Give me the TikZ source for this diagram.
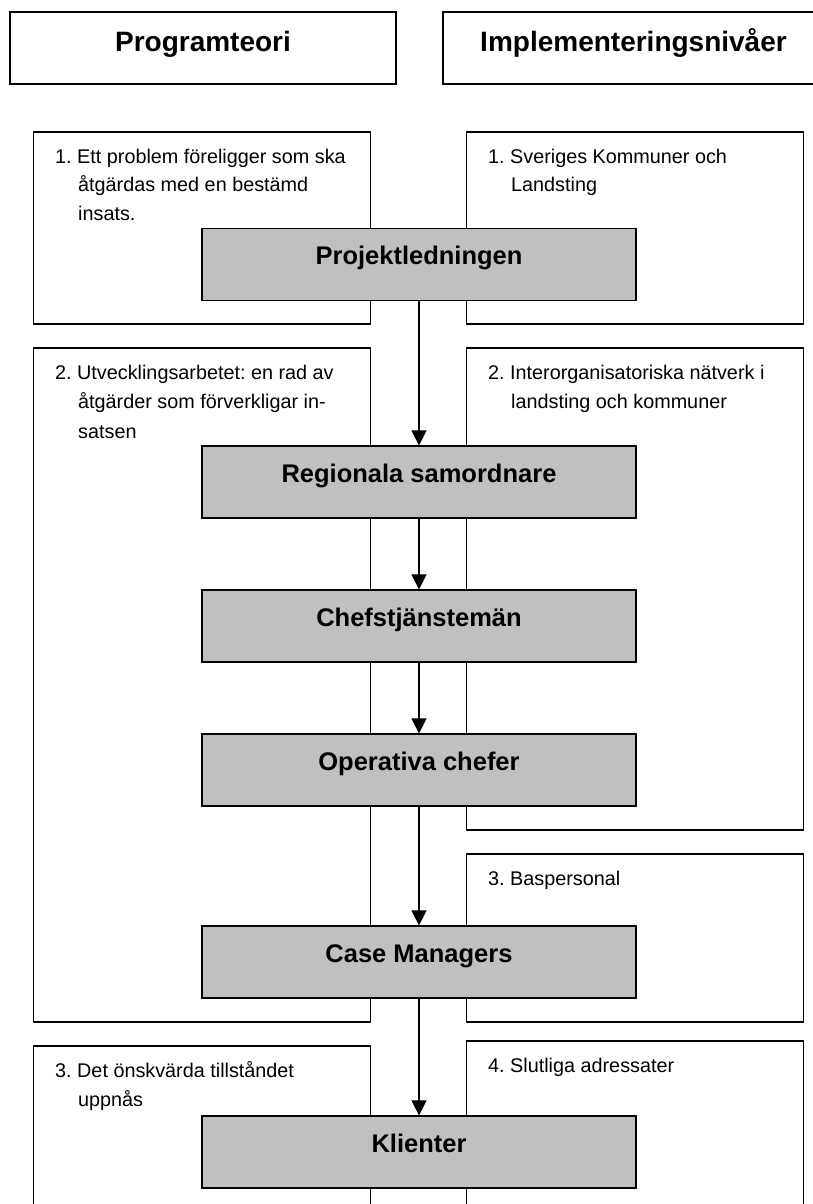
\documentclass[tikz,border=0pt]{standalone}
\usepackage{fontspec}
\setmainfont{Liberation Sans}
\usetikzlibrary{arrows.meta}
\definecolor{boxgray}{RGB}{192,192,192}
\frenchspacing
\begin{document}
\begin{tikzpicture}[x=1pt,y=-1pt,
  wbox/.style={draw=black, line width=1.1pt, fill=white, minimum width=337pt, inner sep=0pt},
  hbox/.style={draw=black, line width=1.2pt, fill=white, minimum height=72pt, inner sep=0pt,
    font=\fontsize{28}{34}\selectfont\bfseries, text height=15pt, text depth=8pt},
  gbox/.style={draw=black, line width=1.2pt, fill=boxgray, minimum width=434pt, minimum height=72pt,
    inner sep=0pt, font=\fontsize{25.5}{30}\selectfont\bfseries, text height=9pt, text depth=9pt},
  ln/.style={anchor=base west, inner sep=0pt, font=\fontsize{19.8}{24}\selectfont},
  arr/.style={-{Triangle[width=15pt,length=15pt]}, line width=1.1pt}]
\useasboundingbox (0,0) rectangle (813,1204);

% header boxes
\node[hbox, minimum width=386pt] (hL) at (203,48) {Programteori};
\node[hbox, minimum width=381pt] (hR) at (633.5,48) {Implementeringsnivåer};

% white frames
\node[wbox, minimum height=192pt] (L1) at (202,228) {};
\node[wbox, minimum height=192pt] (R1) at (635,228) {};
\node[wbox, minimum height=674pt] (L2) at (202,685) {};
\node[wbox, minimum height=482pt] (R2) at (635,589) {};
\node[wbox, minimum height=168pt] (R3) at (635,938) {};
\node[wbox, minimum height=184pt] (L3) at (202,1138) {};
\node[wbox, minimum height=190pt] (R4) at (635,1136) {};

% frame texts
\node[ln] (t1a) at (55,163) {1. Ett problem föreligger som ska};
\node[ln] (t1b) at (78,191.8) {åtgärdas med en bestämd};
\node[ln] (t1c) at (78,220.6) {insats.};
\node[ln] (u1a) at (488,163) {1. Sveriges Kommuner och};
\node[ln] (u1b) at (511,191.8) {Landsting};
\node[ln] (t2a) at (55,379) {2. Utvecklingsarbetet: en rad av};
\node[ln] (t2b) at (78,408.5) {åtgärder som förverkligar in-};
\node[ln] (t2c) at (78,438) {satsen};
\node[ln] (u2a) at (488,379) {2. Interorganisatoriska nätverk i};
\node[ln] (u2b) at (511,408.5) {landsting och kommuner};
\node[ln] (u3a) at (488,885) {3. Baspersonal};
\node[ln] (t3a) at (55,1077) {3. Det önskvärda tillståndet};
\node[ln] (t3b) at (78,1106) {uppnås};
\node[ln] (u4a) at (488,1072) {4. Slutliga adressater};

% grey level boxes
\node[gbox] (g1) at (419,264.5) {Projektledningen};
\node[gbox] (g2) at (419,482) {Regionala samordnare};
\node[gbox] (g3) at (419,626) {Chefstjänstemän};
\node[gbox] (g4) at (419,770) {Operativa chefer};
\node[gbox] (g5) at (419,962) {Case Managers};
\node[gbox] (g6) at (419,1152) {Klienter};

% arrows
\draw[arr] (g1.south) -- (g2.north);
\draw[arr] (g2.south) -- (g3.north);
\draw[arr] (g3.south) -- (g4.north);
\draw[arr] (g4.south) -- (g5.north);
\draw[arr] (g5.south) -- (g6.north);
\end{tikzpicture}
\end{document}
